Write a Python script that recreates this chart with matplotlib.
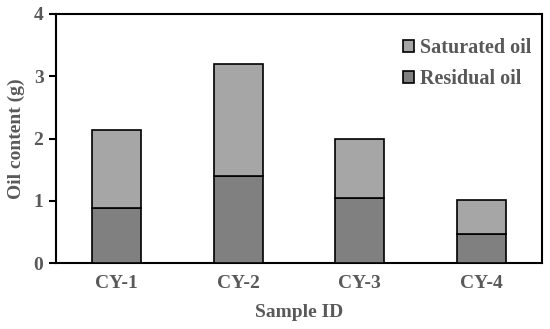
import matplotlib.pyplot as plt
import numpy as np

samples = ['CY-1', 'CY-2', 'CY-3', 'CY-4']
residual = [0.89, 1.39, 1.04, 0.47]
total = [2.14, 3.20, 1.99, 1.02]
saturated = [t - r for t, r in zip(total, residual)]

plt.rcParams['font.family'] = ['Liberation Serif', 'DejaVu Serif']
plt.rcParams['font.weight'] = 'bold'
plt.rcParams['axes.labelweight'] = 'bold'
txt = '#595959'

fig = plt.figure(figsize=(5.5, 3.29), dpi=100)
ax = fig.add_axes([56 / 550, 1 - 263 / 329, 486 / 550, 249 / 329])

x = np.arange(len(samples))
ax.bar(x, residual, width=0.40, color='#808080', edgecolor='black', linewidth=1.2,
       label='Residual oil', zorder=3)
ax.bar(x, saturated, width=0.40, bottom=residual, color='#a6a6a6', edgecolor='black',
       linewidth=1.2, label='Saturated oil', zorder=3)

ax.set_xlim(-0.5, 3.5)
ax.set_ylim(0, 4)
ax.set_yticks([0, 1, 2, 3, 4])
ax.set_xticks(x)
ax.set_xticklabels(samples)
ax.tick_params(axis='x', length=0, pad=9, labelsize=14, labelcolor=txt)
ax.tick_params(axis='y', direction='out', length=5, width=1.5, labelsize=14, labelcolor=txt, pad=4)
for s in ax.spines.values():
    s.set_linewidth(1.5)

ax.set_xlabel('Sample ID', fontsize=14, color=txt, labelpad=8)
ax.set_ylabel('Oil content (g)', fontsize=14, color=txt, labelpad=6)

h, l = ax.get_legend_handles_labels()
leg = ax.legend(h[::-1], l[::-1], loc='upper right', frameon=False, fontsize=14.5,
                handlelength=0.55, handleheight=0.55, handletextpad=0.3,
                labelspacing=0.55, bbox_to_anchor=(1.015, 0.975))
for t in leg.get_texts():
    t.set_color(txt)

fig.savefig('out.png', dpi=100)
